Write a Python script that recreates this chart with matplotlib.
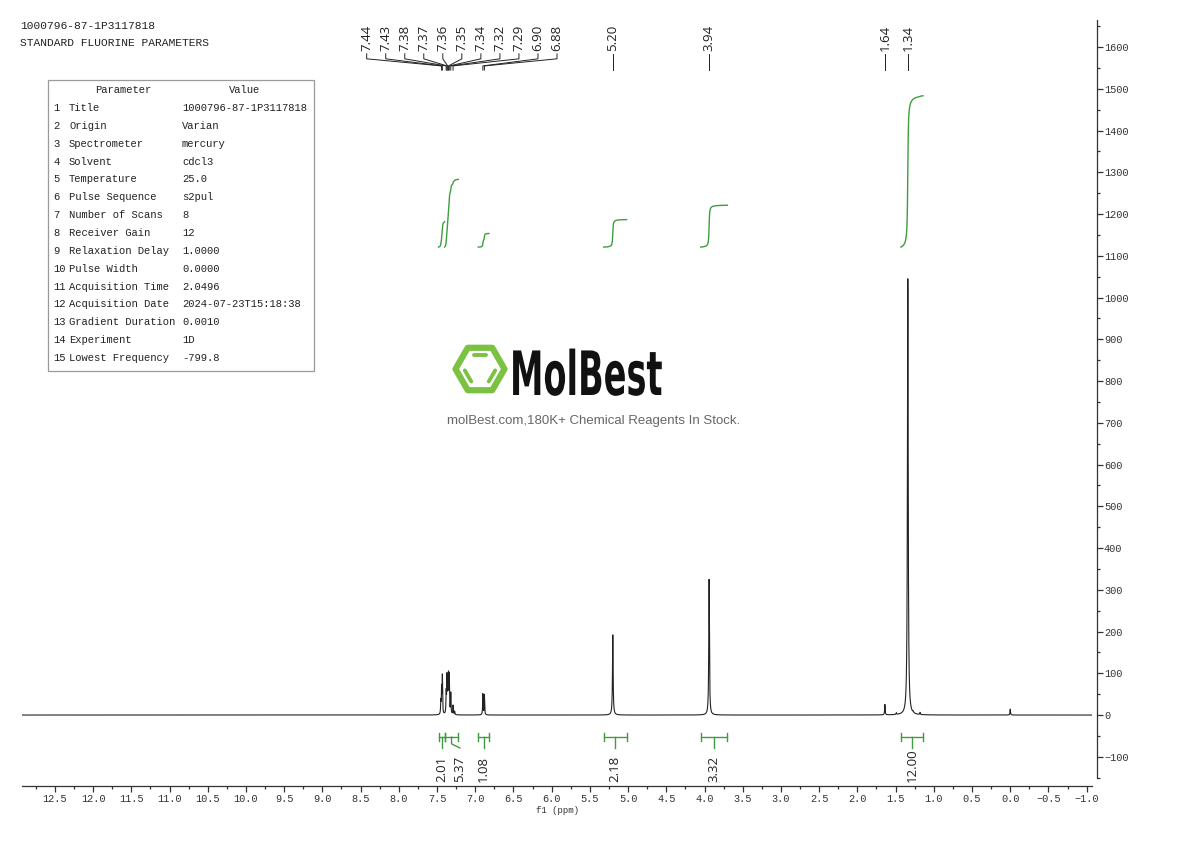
import numpy as np
import matplotlib
matplotlib.use("Agg")
import matplotlib.pyplot as plt
from matplotlib.patches import RegularPolygon, Rectangle
from matplotlib.ticker import MultipleLocator, FuncFormatter
from matplotlib.patheffects import AbstractPathEffect
from matplotlib.transforms import Affine2D

# ---------------- data ----------------
sample_id = "1000796-87-1P3117818"
experiment_title = "STANDARD FLUORINE PARAMETERS"

param_names = ["Title", "Origin", "Spectrometer", "Solvent", "Temperature",
               "Pulse Sequence", "Number of Scans", "Receiver Gain",
               "Relaxation Delay", "Pulse Width", "Acquisition Time",
               "Acquisition Date", "Gradient Duration", "Experiment",
               "Lowest Frequency"]
param_values = ["1000796-87-1P3117818", "Varian", "mercury", "cdcl3", "25.0",
                "s2pul", "8", "12", "1.0000", "0.0000", "2.0496",
                "2024-07-23T15:18:38", "0.0010", "1D", "-799.8"]

# spectrum peaks (ppm, height, half-width at half max in ppm)
peak_ppm = [7.45, 7.44, 7.43, 7.38, 7.37, 7.36, 7.35, 7.34, 7.32, 7.29, 7.27,
            6.90, 6.88, 5.20, 3.94, 1.64, 1.49, 1.34, 1.27, 1.18, 0.00]
peak_height = [30, 60, 90, 50, 85, 62, 85, 88, 50, 22, 8,
               50, 48, 192, 325, 25, 4, 1045, 3, 5, 14]
peak_hwhm = [0.0035] * 11 + [0.0035, 0.0035, 0.005, 0.005, 0.004, 0.004,
                             0.006, 0.004, 0.004, 0.004]

# peak picking labels
shift_labels = [7.44, 7.43, 7.38, 7.37, 7.36, 7.35, 7.34, 7.32, 7.29,
                6.90, 6.88, 5.20, 3.94, 1.64, 1.34]

# integrations
integral_from = [7.48, 7.40, 6.96, 5.32, 4.05, 1.43]
integral_to = [7.40, 7.22, 6.82, 5.02, 3.70, 1.14]
integral_value = [2.01, 5.37, 1.08, 2.18, 3.32, 12.00]

x_ticks_major = 0.5
y_ticks_major = 100

# ---------------- layout / style ----------------
W, H = 1190, 841
plt.rcParams['font.family'] = ['Liberation Mono', 'DejaVu Sans']
SANS = ['Open Sans', 'DejaVu Sans']
GREEN = '#3f9d3f'
INK = '#222222'


class HScale(AbstractPathEffect):
    """Squeeze a text horizontally about a fixed display x (logo lettering)."""
    def __init__(self, sx, x0):
        super().__init__()
        self.sx, self.x0 = sx, x0

    def draw_path(self, renderer, gc, tpath, affine, rgbFace=None):
        aff = affine + Affine2D().translate(-self.x0, 0).scale(self.sx, 1).translate(self.x0, 0)
        renderer.draw_path(gc, tpath, aff, rgbFace)


fig = plt.figure(figsize=(W / 100, H / 100), dpi=100)
ax_l, ax_r, ax_t, ax_b = 22, 1092, 20, 786
ax = fig.add_axes([ax_l / W, 1 - ax_b / H, (ax_r - ax_l) / W, (ax_b - ax_t) / H])

XMAX, XMIN = 12.93, -1.07
YMIN, YMAX = -170, 1665

# spectrum
x = np.linspace(XMAX, XMIN, 28001)
y = np.zeros_like(x)
for p, h, w in zip(peak_ppm, peak_height, peak_hwhm):
    y += h / (1.0 + ((x - p) / w) ** 2)
ax.plot(x, y, color=INK, lw=0.8, zorder=3)

# integral curves
int_base = 1121
int_scale = 30.2
for a, b, v in zip(integral_from, integral_to, integral_value):
    m = (x <= a) & (x >= b)
    c = np.cumsum(y[m])
    c = c / c[-1]
    ax.plot(x[m], int_base + v * int_scale * c, color=GREEN, lw=1.0, zorder=2)

# integral brackets & labels
br_y, cap, br_y2, br_y3, lab_y = -53, 9, -69, -79, -160
min_sep = 0.24
lab_x = []
for a, b in zip(integral_from, integral_to):
    c = (a + b) / 2
    if lab_x and c > lab_x[-1] - min_sep:
        c = lab_x[-1] - min_sep
    lab_x.append(c)
for a, b, v, lx in zip(integral_from, integral_to, integral_value, lab_x):
    c = (a + b) / 2
    ax.plot([a, b], [br_y, br_y], color=GREEN, lw=1.0)
    ax.plot([a, a], [br_y - cap, br_y + cap], color=GREEN, lw=1.0)
    ax.plot([b, b], [br_y - cap, br_y + cap], color=GREEN, lw=1.0)
    ax.plot([c, c, lx], [br_y, br_y2, br_y3], color=GREEN, lw=1.0)
    ax.text(lx, lab_y, f"{v:.2f}", rotation=90, ha='center', va='bottom',
            fontsize=9.5, family=SANS, color=INK)

# peak labels
n_arom = 11
label_pos = [8.42 - 0.249 * i for i in range(n_arom)] + shift_labels[n_arom:]
for p, lx in zip(shift_labels, label_pos):
    ax.plot([lx, lx, p, p], [1584, 1572, 1555, 1545], color=INK, lw=0.7)
    ax.text(lx, 1590, f"{p:.2f}", rotation=90, ha='center', va='bottom',
            fontsize=9.5, family=SANS, color=INK)

# axes styling
ax.set_xlim(XMAX, XMIN)
ax.set_ylim(YMIN, YMAX)
ax.spines['left'].set_visible(False)
ax.spines['top'].set_visible(False)
ax.spines['right'].set_position(('outward', 3.6))
ax.spines['right'].set_bounds(-150, YMAX)
for s in ('right', 'bottom'):
    ax.spines[s].set_linewidth(0.9)
    ax.spines[s].set_color('#333333')
ax.yaxis.tick_right()
ax.xaxis.set_major_locator(MultipleLocator(x_ticks_major))
ax.xaxis.set_minor_locator(MultipleLocator(x_ticks_major / 2))
ax.yaxis.set_major_locator(MultipleLocator(y_ticks_major))
ax.yaxis.set_minor_locator(MultipleLocator(y_ticks_major / 2))
fmt1 = FuncFormatter(lambda v, pos: f"{v:.1f}".replace('-', '\u2212'))
fmt0 = FuncFormatter(lambda v, pos: f"{v:.0f}".replace('-', '\u2212'))
ax.xaxis.set_major_formatter(fmt1)
ax.yaxis.set_major_formatter(fmt0)
ax.tick_params(axis='both', which='major', length=4, width=0.9, color='#333333',
               labelsize=7.4, labelcolor='#333333', pad=2)
ax.tick_params(axis='both', which='minor', length=2.5, width=0.9, color='#333333')
ax.tick_params(axis='y', which='both', left=False, right=True, pad=1)
ax.set_xlabel("f1 (ppm)", fontsize=6.5, color='#333333', labelpad=1)
ax.set_facecolor('none')

# ---------------- overlay (header, parameter table, logo) ----------------
ov = fig.add_axes([0, 0, 1, 1])
ov.set_xlim(0, W)
ov.set_ylim(H, 0)
ov.axis('off')
ov.patch.set_visible(False)

ov.text(20, 26, sample_id, fontsize=8.1, va='center', ha='left', color=INK)
ov.text(20, 43, experiment_title, fontsize=8.1, va='center', ha='left', color=INK)

ov.add_patch(Rectangle((48, 80), 266, 291, fill=False, edgecolor='#9a9a9a', lw=0.9))
ov.text(123, 90, "Parameter", fontsize=7.6, ha='center', va='center', color=INK)
ov.text(245, 90, "Value", fontsize=7.6, ha='center', va='center', color=INK)
for i, (nm, vl) in enumerate(zip(param_names, param_values)):
    yy = 108 + i * 17.86
    ov.text(53, yy, str(i + 1), fontsize=7.6, ha='left', va='center', color=INK)
    ov.text(69, yy, nm, fontsize=7.6, ha='left', va='center', color=INK)
    ov.text(182, yy, vl, fontsize=7.6, ha='left', va='center', color=INK)

# logo
LG = '#7cc242'
cx, cy = 480, 369
ov.add_patch(RegularPolygon((cx, cy), 6, radius=24.5, orientation=np.pi / 6,
                            fill=False, edgecolor=LG, lw=4.5, joinstyle='round'))
r_in = 16
for t1, t2 in ((60, 120), (180, 240), (300, 360)):
    p1 = np.array([cx + r_in * np.cos(np.radians(t1)), cy - r_in * np.sin(np.radians(t1))])
    p2 = np.array([cx + r_in * np.cos(np.radians(t2)), cy - r_in * np.sin(np.radians(t2))])
    mid = (p1 + p2) / 2
    q1 = mid + (p1 - mid) * 0.8
    q2 = mid + (p2 - mid) * 0.8
    ov.plot([q1[0], q2[0]], [q1[1], q2[1]], color=LG, lw=2.8, solid_capstyle='round')
logo_x = 510
ov.text(logo_x, 395, "MolBest", fontsize=44, ha='left', va='baseline', color='#111111',
        family=['DejaVu Sans'], fontweight='bold',
        path_effects=[HScale(0.55, logo_x)])
ov.text(594, 421, "molBest.com,180K+ Chemical Reagents In Stock.", fontsize=9.5,
        ha='center', va='center', color='#666666', family=['Liberation Sans', 'DejaVu Sans'])

fig.savefig("out.png", dpi=100)
